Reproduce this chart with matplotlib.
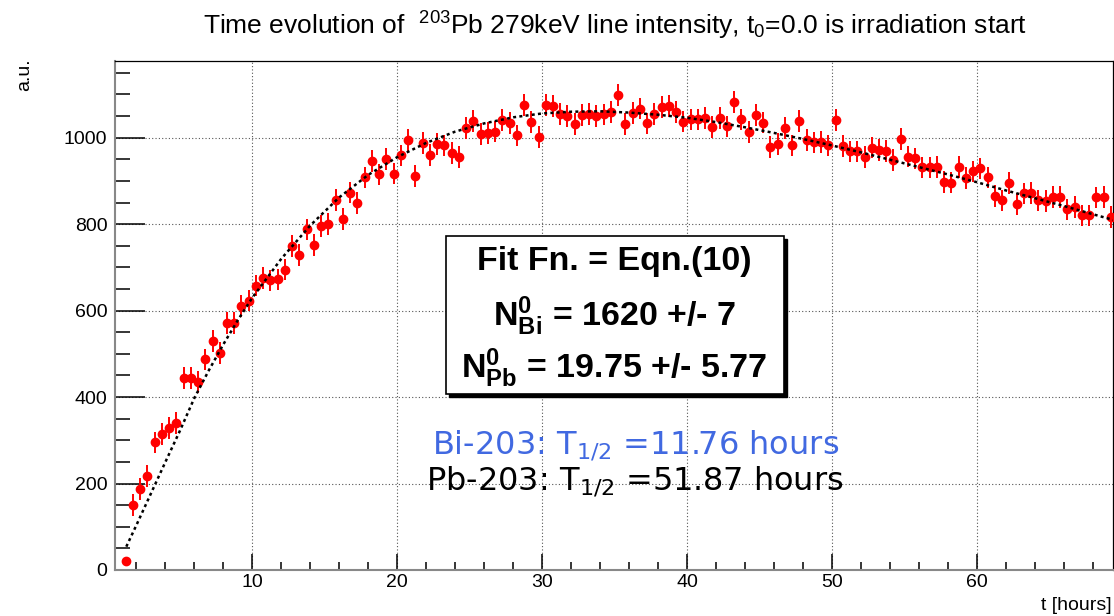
import numpy as np
import matplotlib.pyplot as plt
from matplotlib.patches import Rectangle
from matplotlib.ticker import MultipleLocator

plt.rcParams['font.family'] = ['Liberation Sans', 'DejaVu Sans']
plt.rcParams['mathtext.default'] = 'regular'

# bin centres: first bin and bin width [hours]
t_first = 1.25
t_step = 0.5

counts = [21, 150, 188, 218, 295, 315, 329, 340, 444, 444,
          435, 487, 530, 502, 572, 572, 610, 623, 658, 676,
          670, 672, 695, 750, 729, 788, 752, 796, 800, 856,
          812, 873, 849, 908, 946, 915, 950, 917, 959, 995,
          912, 988, 960, 986, 982, 965, 955, 1022, 1039, 1008,
          1011, 1014, 1041, 1034, 1005, 1075, 1036, 1001, 1075, 1073,
          1055, 1050, 1032, 1052, 1055, 1050, 1054, 1059, 1098, 1031,
          1057, 1067, 1033, 1055, 1071, 1073, 1059, 1037, 1042, 1042,
          1045, 1025, 1045, 1026, 1083, 1042, 1013, 1052, 1035, 978,
          986, 1022, 982, 1039, 994, 989, 990, 982, 1041, 981,
          968, 968, 955, 977, 971, 969, 949, 997, 956, 952,
          931, 931, 932, 898, 896, 932, 907, 922, 929, 908,
          865, 855, 895, 847, 871, 872, 855, 854, 863, 863,
          834, 839, 820, 820, 862, 863, 817]
errs = [10] + [25] * (len(counts) - 1)
t = t_first + t_step * np.arange(len(counts))

# fitted curve
fit_t = [1.3, 2, 3, 4, 5, 6, 7, 8, 9, 10, 12, 14, 16, 18, 20, 22, 24, 26,
         28, 30, 32, 34, 36, 38, 40, 42, 44, 46, 48, 50, 52, 54, 56, 58,
         60, 62, 64, 66, 68, 69.5]
fit_y = [54, 104, 177, 250, 322, 398, 462, 522, 578, 630, 720, 797, 862,
         914, 955, 988, 1014, 1033, 1047, 1056, 1060, 1061, 1058, 1053,
         1046, 1036, 1024, 1011, 997, 982, 966, 949, 932, 915, 897, 878,
         860, 842, 823, 809]

W, H = 1114, 616
fig = plt.figure(figsize=(W / 100, H / 100), dpi=100)
ax = fig.add_axes([115 / W, 1 - 570 / H, (1113 - 115) / W, (570 - 60.7) / H])

ax.errorbar(t, counts, yerr=errs, fmt='o', color='red', ms=6,
            elinewidth=1.4, capsize=0, mec='red', zorder=3)
ax.plot(fit_t, fit_y, color='black', lw=1.8, linestyle=(0, (1.2, 1.3)),
        zorder=4)

ax.set_xlim(0.52, 69.4)
ax.set_ylim(0, 1178)
ax.xaxis.set_major_locator(MultipleLocator(10))
ax.xaxis.set_minor_locator(MultipleLocator(2))
ax.yaxis.set_major_locator(MultipleLocator(200))
ax.yaxis.set_minor_locator(MultipleLocator(50))
ax.tick_params(axis='both', which='both', direction='in', labelsize=14,
               width=1.1, top=False, right=False)
ax.tick_params(axis='y', which='major', length=21.6, pad=5.5)
ax.tick_params(axis='y', which='minor', length=10.8)
ax.tick_params(axis='x', which='major', length=11.5, pad=3)
ax.tick_params(axis='x', which='minor', length=5.8)
ax.grid(True, which='major', color='#555555', lw=0.8, linestyle=(0, (1, 2)))
ax.set_axisbelow(True)
for s in ['left', 'bottom']:
    ax.spines[s].set_color('#888888')
    ax.spines[s].set_linewidth(1.5)
for s in ['top', 'right']:
    ax.spines[s].set_color('black')
    ax.spines[s].set_linewidth(0.9)

fig.text(615 / W, 1 - 35 / H,
         r'Time evolution of  $^{203}$Pb 279keV line intensity, t$_{0}$=0.0 is irradiation start',
         fontsize=19, ha='center', va='baseline')
fig.text(25 / W, 1 - 58 / H, 'a.u.', rotation=90, ha='center', va='top',
         fontsize=14)
fig.text(1112 / W, 1 - 610 / H, 't [hours]', ha='right', va='baseline',
         fontsize=14)

# fit result box with shadow
bx0, bx1, by0, by1 = 445.7, 784.3, 235.7, 394
fig.patches.append(Rectangle(((bx0 + 3) / W, 1 - (by1 + 3) / H),
                             (bx1 - bx0) / W, (by1 - by0) / H,
                             transform=fig.transFigure, fc='black', ec='black',
                             zorder=5))
fig.patches.append(Rectangle((bx0 / W, 1 - by1 / H),
                             (bx1 - bx0) / W, (by1 - by0) / H,
                             transform=fig.transFigure, fc='white', ec='black',
                             lw=1.2, zorder=6))
cx = 614 / W
fig.text(cx, 1 - 270 / H, 'Fit Fn. = Eqn.(10)', fontsize=24.5, weight='bold',
         ha='center', va='baseline', zorder=7)
fig.text(cx, 1 - 326 / H, r'$N^{0}_{Bi}$ = 1620 +/- 7', fontsize=24.5,
         weight='bold', ha='center', va='baseline', zorder=7)
fig.text(cx, 1 - 378.3 / H, r'$N^{0}_{Pb}$ = 19.75 +/- 5.77', fontsize=24.5,
         weight='bold', ha='center', va='baseline', zorder=7)

fig.text(636 / W, 1 - 453.3 / H, r'Bi-203: T$_{1/2}$ =11.76 hours',
         fontsize=23, family='DejaVu Sans', color='#4169E1', ha='center',
         va='baseline')
fig.text(635 / W, 1 - 489.3 / H, r'Pb-203: T$_{1/2}$ =51.87 hours',
         fontsize=23, family='DejaVu Sans', color='black', ha='center',
         va='baseline')

fig.savefig('out.png', dpi=100)
